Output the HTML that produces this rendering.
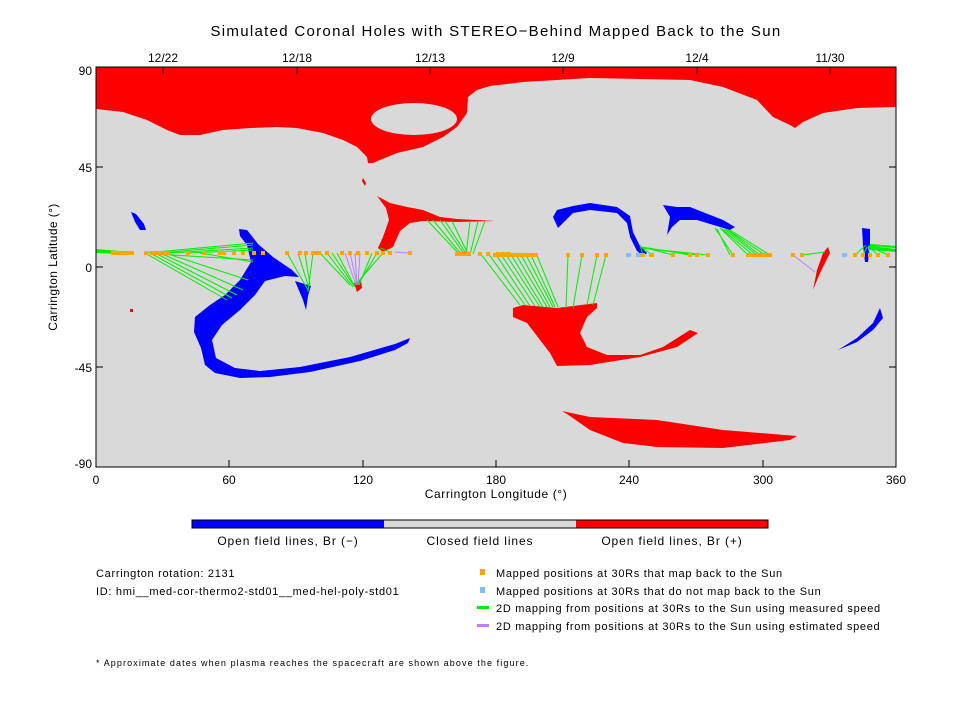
<!DOCTYPE html>
<html><head><meta charset="utf-8"><style>
html,body{margin:0;padding:0;background:#fff;}
svg{display:block;font-family:"Liberation Sans",sans-serif;}
</style></head><body>
<svg width="960" height="720" viewBox="0 0 960 720" xmlns="http://www.w3.org/2000/svg">
<rect width="960" height="720" fill="#fff"/>
<text x="496" y="36" font-size="15" text-anchor="middle" fill="#000" letter-spacing="1.3">Simulated Coronal Holes with STEREO−Behind Mapped Back to the Sun</text>
<clipPath id="c"><rect x="96" y="67" width="800" height="400"/></clipPath>
<g clip-path="url(#c)">
<rect x="96" y="67" width="800" height="400" fill="#d9d9d9"/>
<path fill="#f00" d="M96,67 L896,67 L896,107 L857,108 L823,113 L803,122 L795,128 L790,125 L773,117 L757,100 L723,87 L690,80 L590,78 L523,82 L490,86 L477,90 L468,97 L467,113 L457,127 L443,137 L423,147 L397,153 L380,160 L373,163 L368,163 L367,157 L357,147 L343,140 L323,133 L297,128 L277,127 L250,128 L223,130 L200,135 L180,135 L167,130 L147,120 L123,112 L96,109 Z"/>
<ellipse cx="414" cy="119" rx="43" ry="16" fill="#d9d9d9"/>
<path fill="#f00" d="M377,196 L390,203 L407,207 L423,210 L440,217 L457,219 L495,221 L457,222 L423,221 L410,223 L400,231 L393,247 L383,252 L378,248 L383,237 L389,220 L386,208 Z"/>
<path fill="#f00" d="M363,178 L366,183 L365,186 L362,181Z"/>
<path fill="#f00" d="M354,283 L361,280 L362,288 L357,292Z"/>
<rect x="130" y="309" width="3" height="3" fill="#f00"/>
<path fill="#f00" d="M513,308 L523,305 L557,308 L597,303 L597,308 L587,317 L580,333 L587,347 L607,355 L640,355 L663,347 L690,330 L698,333 L677,347 L640,357 L590,365 L557,366 L550,353 L527,323 L513,317 Z"/>
<path fill="#f00" d="M562,411 L590,417 L657,420 L723,430 L797,436 L790,440 L723,448 L657,447 L623,443 L590,430 L567,414 Z"/>
<path fill="#f00" d="M828,247 L830,253 L820,273 L813,290 L817,270 L823,253 Z"/>
<path fill="#00f" d="M239,229 L247,230 L258,244 L273,257 L292,270 L299,277 L285,276 L265,281 L255,295 L240,310 L222,325 L212,340 L216,358 L235,368 L260,371 L300,367 L350,357 L395,344 L410,338 L408,343 L395,350 L360,361 L310,372 L270,377 L240,378 L215,373 L205,365 L201,348 L194,332 L195,317 L210,305 L225,295 L240,280 L251,262 L247,245 L240,236 Z"/>
<path fill="#00f" d="M131,212 L136,214 L144,224 L146,230 L140,230 L135,222 Z"/>
<path fill="#00f" d="M295,281 L311,286 L308,296 L306,310 L303,300 Z"/>
<path fill="#00f" d="M553,217 L557,210 L573,206 L590,203 L617,207 L630,216 L633,232 L640,246 L647,253 L643,256 L637,251 L630,237 L627,223 L617,213 L590,210 L573,213 L558,228 Z"/>
<path fill="#00f" d="M663,205 L677,207 L690,207 L723,220 L735,227 L730,230 L720,227 L697,220 L680,220 L672,227 L667,235 L670,217 Z"/>
<path fill="#00f" d="M862,228 L870,229 L870,243 L868,262 L865,262 L863,245 Z"/>
<path fill="#00f" d="M880,308 L883,318 L873,330 L857,342 L838,350 L857,338 L873,323 Z"/>
<g stroke="#00ee00" stroke-width="1" fill="none">
<path d="M96,250 L120,252 M96,252 L120,253 M96,251 L120,252" stroke-width="2"/>
<path d="M145,253 L227,300 M150,253 L232,298 M155,253 L237,295 M160,253 L243,290 M165,253 L248,280 M145,253 L253,243 M158,253 L253,245 M170,253 L253,248 M190,253 L253,250 M157,254 L253,260 M200,253 L253,262"/>
<path d="M287,253 L308,290 M298,253 L309,288 M305,253 L310,285 M313,253 L308,292 M320,253 L350,285 M327,253 L353,287 M332,253 L354,286 M337,253 L355,287 M377,253 L358,285 M383,253 L357,283 M372,253 L359,285 M390,252 L380,248"/>
<path d="M427,220 L460,255 M433,220 L462,255 M440,220 L465,255 M445,221 L467,255 M452,221 L468,254 M470,221 L466,255 M478,221 L470,255 M485,221 L473,254"/>
<path d="M480,253 L520,305 M488,253 L525,305 M495,253 L530,306 M500,253 L535,306 M505,253 L540,307 M510,253 L543,307 M515,253 L547,307 M520,253 L550,307 M525,253 L553,307 M530,253 L555,307 M536,253 L558,307 M568,255 L566,308 M582,255 L573,308 M597,255 L587,305 M606,255 L593,305"/>
<path d="M640,245 L643,255 M640,246 L652,255 M642,247 L673,255 M642,247 L690,255 M642,248 L697,255 M642,248 L708,255"/>
<path d="M715,228 L733,255 M720,228 L748,255 M722,229 L753,255 M724,229 L757,255 M726,229 L760,255 M728,230 L765,255 M730,230 L770,255 M717,229 L730,255"/>
<path d="M802,255 L825,252"/>
<path d="M866,245 L855,255 M867,247 L863,255 M868,247 L870,255 M868,246 L878,255 M868,246 L888,255"/>
<path d="M870,245 L896,247 M870,247 L896,250 M870,249 L896,251" stroke-width="2"/>
</g>
<g stroke="#b980ff" stroke-width="1" fill="none">
<path d="M345,253 L356,285 M350,253 L357,284 M355,253 L357,285 M360,253 L358,284 M395,252 L410,253 M793,255 L815,272"/>
</g>
<g fill="#ffa500">
<rect x="111" y="251" width="23" height="4"/>
<rect x="144" y="251" width="4" height="4"/><rect x="150" y="251" width="20" height="4"/>
<rect x="186" y="251" width="4" height="4"/><rect x="202" y="251" width="4" height="4"/><rect x="218" y="251" width="4" height="4"/><rect x="222" y="251" width="4" height="4"/><rect x="232" y="251" width="4" height="4"/><rect x="241" y="251" width="4" height="4"/><rect x="252" y="251" width="4" height="4"/><rect x="261" y="251" width="4" height="4"/>
<rect x="285" y="251" width="4" height="4"/><rect x="298" y="251" width="4" height="4"/><rect x="304" y="251" width="4" height="4"/><rect x="311" y="251" width="10" height="4"/><rect x="325" y="251" width="4" height="4"/>
<rect x="340" y="251" width="4" height="4"/><rect x="348" y="251" width="4" height="4"/><rect x="356" y="251" width="4" height="4"/><rect x="365" y="251" width="4" height="4"/><rect x="375" y="251" width="4" height="4"/><rect x="381" y="251" width="4" height="4"/><rect x="388" y="251" width="4" height="4"/><rect x="408" y="251" width="4" height="4"/>
<rect x="455" y="252" width="16" height="4"/><rect x="478" y="252" width="4" height="4"/><rect x="486" y="252" width="4" height="4"/><rect x="496" y="252" width="4" height="4"/><rect x="501" y="252" width="4" height="4"/><rect x="506" y="252" width="4" height="4"/>
<rect x="493" y="253" width="45" height="4"/>
<rect x="566" y="253" width="4" height="4"/><rect x="580" y="253" width="4" height="4"/><rect x="595" y="253" width="4" height="4"/><rect x="604" y="253" width="4" height="4"/>
<rect x="641" y="253" width="4" height="4"/><rect x="649" y="253" width="5" height="4"/><rect x="671" y="253" width="4" height="4"/><rect x="688" y="253" width="4" height="4"/><rect x="695" y="253" width="4" height="4"/><rect x="706" y="253" width="4" height="4"/><rect x="731" y="253" width="4" height="4"/>
<rect x="746" y="253" width="26" height="4"/><rect x="791" y="253" width="4" height="4"/><rect x="800" y="253" width="4" height="4"/>
<rect x="853" y="253" width="4" height="4"/><rect x="861" y="253" width="4" height="4"/><rect x="868" y="253" width="4" height="4"/><rect x="876" y="253" width="4" height="4"/><rect x="886" y="253" width="4" height="4"/>
</g>
<g fill="#80bfff"><rect x="626" y="253" width="5" height="4"/><rect x="636" y="253" width="5" height="4"/><rect x="842" y="253" width="5" height="4"/></g>
</g>
<rect x="96" y="67" width="800" height="400" fill="none" stroke="#000" stroke-width="1"/>
<g stroke="#000" stroke-width="1">
<path d="M229,467 v-7 M363,467 v-7 M496,467 v-7 M629,467 v-7 M763,467 v-7"/>
<path d="M163,67 v7 M297,67 v7 M430,67 v7 M563,67 v7 M697,67 v7 M830,67 v7"/>
<path d="M96,167 h7 M96,267 h7 M96,367 h7 M896,167 h-7 M896,267 h-7 M896,367 h-7"/>
</g>
<g font-size="12" fill="#000" text-anchor="middle">
<text x="163" y="62">12/22</text><text x="297" y="62">12/18</text><text x="430" y="62">12/13</text><text x="563" y="62">12/9</text><text x="697" y="62">12/4</text><text x="830" y="62">11/30</text>
<text x="96" y="484">0</text><text x="229" y="484">60</text><text x="363" y="484">120</text><text x="496" y="484">180</text><text x="629" y="484">240</text><text x="763" y="484">300</text><text x="896" y="484">360</text>
<text x="496" y="498" letter-spacing="0.6">Carrington Longitude (°)</text>
</g>
<g font-size="12" fill="#000" text-anchor="end">
<text x="92" y="75">90</text><text x="92" y="172">45</text><text x="92" y="272">0</text><text x="92" y="372">-45</text><text x="92" y="468">-90</text>
</g>
<text transform="translate(57,267) rotate(-90)" font-size="12" text-anchor="middle" letter-spacing="0.4">Carrington Latitude (°)</text>
<rect x="192" y="520" width="192" height="8" fill="#00f"/>
<rect x="384" y="520" width="192" height="8" fill="#d9d9d9"/>
<rect x="576" y="520" width="192" height="8" fill="#f00"/>
<rect x="192" y="520" width="576" height="8" fill="none" stroke="#000" stroke-width="1"/>
<g font-size="12" text-anchor="middle" letter-spacing="0.9"><text x="288" y="545">Open field lines, Br (−)</text><text x="480" y="545">Closed field lines</text><text x="672" y="545">Open field lines, Br (+)</text></g>
<g font-size="11" letter-spacing="0.7">
<text x="96" y="577">Carrington rotation: 2131</text>
<text x="96" y="595">ID: hmi__med-cor-thermo2-std01__med-hel-poly-std01</text>
<text x="496" y="577">Mapped positions at 30Rs that map back to the Sun</text>
<text x="496" y="595">Mapped positions at 30Rs that do not map back to the Sun</text>
<text x="496" y="612">2D mapping from positions at 30Rs to the Sun using measured speed</text>
<text x="496" y="630">2D mapping from positions at 30Rs to the Sun using estimated speed</text>
<text x="96" y="666" font-size="9" letter-spacing="1.1">* Approximate dates when plasma reaches the spacecraft are shown above the figure.</text>
</g>
<rect x="480" y="569" width="5" height="6" fill="#ffa500"/>
<rect x="480" y="587" width="5" height="6" fill="#80bfff"/>
<rect x="477" y="606" width="12" height="3" fill="#00ee00"/>
<rect x="477" y="624" width="12" height="3" fill="#b980ff"/>
</svg>
</body></html>
